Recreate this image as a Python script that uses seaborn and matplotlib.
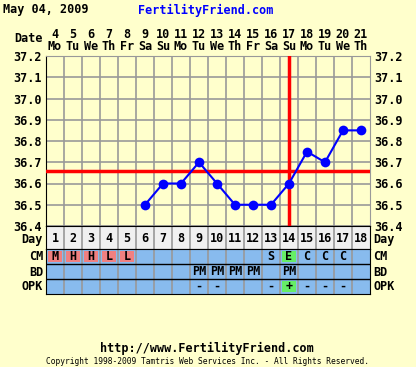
import numpy as np
import pandas as pd
import matplotlib
matplotlib.use("Agg")
import matplotlib.pyplot as plt
from matplotlib.colors import ListedColormap
import seaborn as sns

# chart data
cycle_days = list(range(1, 19))
dates = [4, 5, 6, 7, 8, 9, 10, 11, 12, 13, 14, 15, 16, 17, 18, 19, 20, 21]
weekdays = ['Mo', 'Tu', 'We', 'Th', 'Fr', 'Sa', 'Su', 'Mo', 'Tu', 'We',
            'Th', 'Fr', 'Sa', 'Su', 'Mo', 'Tu', 'We', 'Th']
temps = [np.nan, np.nan, np.nan, np.nan, np.nan, 36.5, 36.6, 36.6, 36.7, 36.6,
         36.5, 36.5, 36.5, 36.6, 36.75, 36.7, 36.85, 36.85]
coverline = 36.66
ovulation_day = 14
cm = ['M', 'H', 'H', 'L', 'L', '', '', '', '', '', '', '', 'S', 'E', 'C', 'C', 'C', '']
bd = ['', '', '', '', '', '', '', '', 'PM', 'PM', 'PM', 'PM', '', 'PM', '', '', '', '']
opk = ['', '', '', '', '', '', '', '', '-', '-', '', '', '-', '+', '-', '-', '-', '']
temp_ticks = [36.4, 36.5, 36.6, 36.7, 36.8, 36.9, 37.0, 37.1, 37.2]

BG = '#FFFFCC'
W, H = 416, 367
FONT = 'DejaVu Sans Mono'
FS = 8.5

df = pd.DataFrame({'day': cycle_days, 'temp': temps}).dropna()


def cell_code(v):
    if v in ('M', 'H', 'L'):
        return 1
    if v in ('E', '+'):
        return 2
    return 0


codes = np.array([[cell_code(v) for v in row] for row in (cm, bd, opk)])
labels = np.array([cm, bd, opk])

fig = plt.figure(figsize=(W / 100, H / 100), dpi=100, facecolor=BG)


def px(x, y):
    return x / W, 1 - y / H


# temperature panel
ax = fig.add_axes([46 / W, 1 - 226 / H, 324 / W, 170 / H])
ax.set_facecolor(BG)
ax.set_xlim(0.5, 18.5)
ax.set_ylim(36.4, 37.2)
ax.set_xticks(np.arange(1.5, 18.5, 1.0))
ax.set_xticklabels([])
ax.set_yticks(temp_ticks)
ax.set_yticklabels([f'{t:.1f}' for t in temp_ticks], fontsize=FS,
                   fontweight='bold', family=FONT)
ax.tick_params(length=0, labelright=True, pad=3)
ax.grid(True, color='#999999', linewidth=1.2)
ax.set_axisbelow(True)
for s in ('top', 'right'):
    ax.spines[s].set_color('#999999')
ax.spines['left'].set_color('black')
ax.spines['bottom'].set_color('black')

ax.axhline(coverline, color='#FF0000', lw=2.5, zorder=3)
ax.axvline(ovulation_day, color='#FF0000', lw=2.5, zorder=3)
sns.lineplot(data=df, x='day', y='temp', ax=ax, color='#0000FF', marker='o',
             markersize=7, markeredgewidth=0, linewidth=1.5, zorder=4)
ax.set_xlabel('')
ax.set_ylabel('')

# date header
for d, num, wd in zip(cycle_days, dates, weekdays):
    x = (46 + (d - 0.5) * 18) / W
    fig.text(x, px(0, 34)[1], str(num), ha='center', va='center', fontsize=FS,
             fontweight='bold', family=FONT)
    fig.text(x, px(0, 46)[1], wd, ha='center', va='center', fontsize=FS,
             fontweight='bold', family=FONT)
fig.text(*px(43, 39), 'Date', ha='right', va='center', fontsize=FS,
         fontweight='bold', family=FONT)

fig.text(*px(3, 10), 'May 04, 2009', ha='left', va='center', fontsize=8.5,
         fontweight='bold', family=FONT)
fig.text(*px(206, 10), 'FertilityFriend.com', ha='center', va='center',
         fontsize=8.5, fontweight='bold', family=FONT, color='#0000FF')

# day row
axd = fig.add_axes([46 / W, 1 - 249 / H, 324 / W, 23 / H])
axd.set_facecolor('#F0F0F0')
axd.set_xlim(0.5, 18.5)
axd.set_ylim(0, 1)
axd.set_xticks([])
axd.set_yticks([])
for x in np.arange(1.5, 18.5, 1.0):
    axd.axvline(x, color='#999999', lw=1.2)
for d in cycle_days:
    axd.text(d, 0.45, str(d), ha='center', va='center', fontsize=FS,
             fontweight='bold', family=FONT)
for s in axd.spines.values():
    s.set_color('black')
fig.text(*px(43, 239.5), 'Day', ha='right', va='center', fontsize=FS,
         fontweight='bold', family=FONT)
fig.text(*px(373, 239.5), 'Day', ha='left', va='center', fontsize=FS,
         fontweight='bold', family=FONT)

# CM / BD / OPK table
axt = fig.add_axes([46 / W, 1 - 294 / H, 324 / W, 45 / H])
sns.heatmap(codes, ax=axt, cmap=ListedColormap(['#88BBEE', '#F08080', '#66EE66']),
            vmin=-0.5, vmax=2.5, cbar=False, annot=labels, fmt='',
            linewidths=1.5, linecolor='#88BBEE',
            annot_kws={'fontsize': 8.5, 'fontweight': 'bold', 'family': FONT,
                       'color': 'black'})
axt.set_xticks([])
axt.set_yticks([])
for x in range(1, 18):
    axt.axvline(x, color='#999999', lw=1.2)
for y in (1, 2):
    axt.axhline(y, color='black', lw=1)
for s in axt.spines.values():
    s.set_visible(True)
    s.set_color('black')
for name, y in (('CM', 257), ('BD', 272), ('OPK', 287)):
    fig.text(*px(43, y), name, ha='right', va='center', fontsize=8.5,
             fontweight='bold', family=FONT)
    fig.text(*px(373, y), name, ha='left', va='center', fontsize=8.5,
             fontweight='bold', family=FONT)

# footer
fig.text(*px(207, 348), 'http://www.FertilityFriend.com', ha='center',
         va='center', fontsize=8.5, fontweight='bold', family=FONT)
fig.text(*px(207, 362), 'Copyright 1998-2009 Tamtris Web Services Inc. - All Rights Reserved.',
         ha='center', va='center', fontsize=5.7, family=FONT)

fig.savefig('out.png', dpi=100, facecolor=BG)
